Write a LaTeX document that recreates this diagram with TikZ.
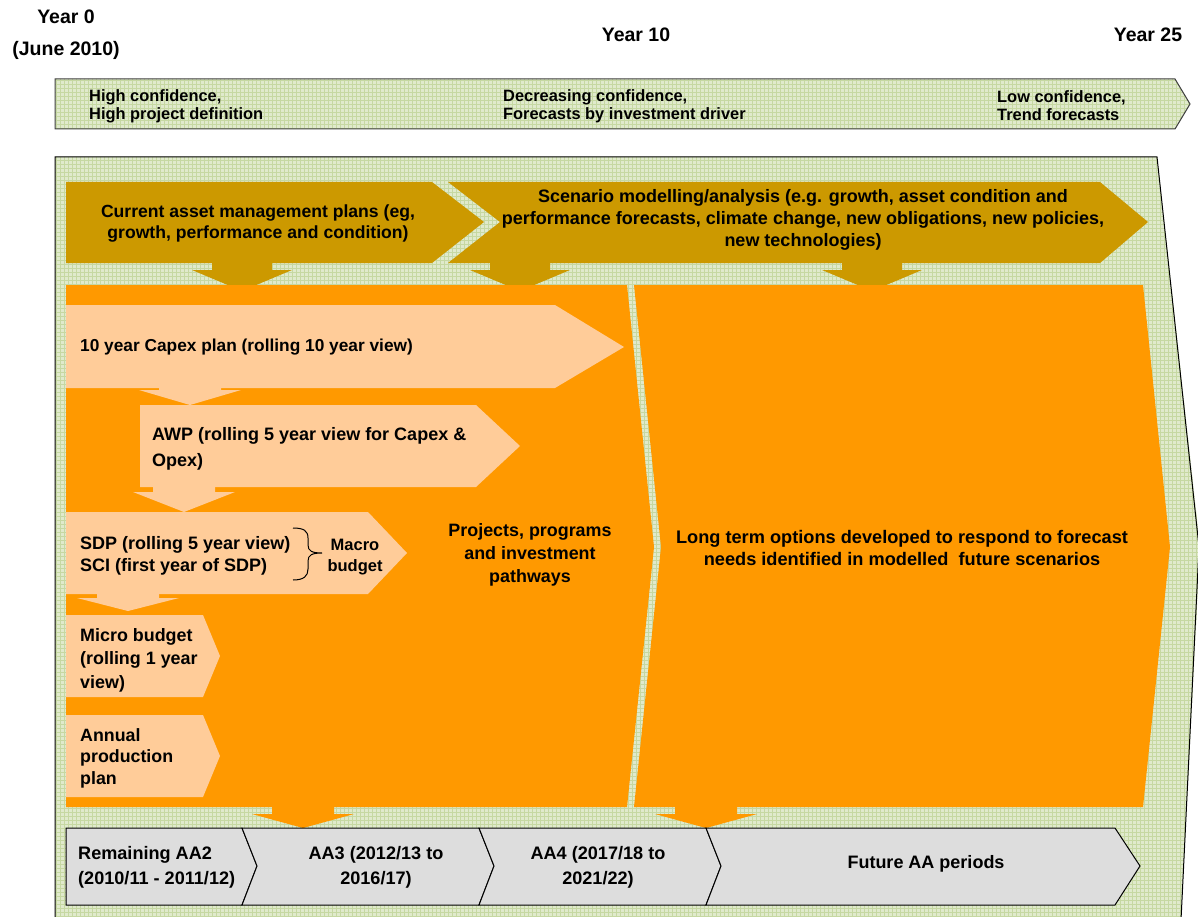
\documentclass[tikz,border=0pt]{standalone}
\usepackage{fontspec}
\setmainfont{Liberation Sans}
\definecolor{bggreen}{HTML}{E0EACC}
\definecolor{gridgreen}{HTML}{C6D8A2}
\definecolor{gold}{HTML}{CC9900}
\definecolor{orng}{HTML}{FF9900}
\definecolor{peach}{HTML}{FFCC99}
\definecolor{greybox}{HTML}{DDDDDD}
\definecolor{darkline}{HTML}{404040}
\newcommand\blkdown[7]{\fill[#1] (#2-#6,#3) -- (#2+#6,#3) -- (#2+#6,#4) -- (#2+#7,#4) -- (#2,#5) -- (#2-#7,#4) -- (#2-#6,#4) -- cycle;}
\newcommand\fs[2]{\bfseries\fontsize{#1}{#2}\selectfont}
\begin{document}
\begin{tikzpicture}[x=1pt,y=-1pt,
  lbl/.style={font=\fs{17.8}{22}, inner sep=0pt, text=black},
  toplbl/.style={font=\fs{16.4}{18}, inner sep=0pt, align=left, anchor=west},
  yearlbl/.style={font=\fs{19.5}{22}, inner sep=0pt},
  gridln/.style={draw=gridgreen, line width=0.7pt},
  chev/.style={fill=greybox, draw=black, line width=1pt, line join=miter}]
\useasboundingbox (0,0) rectangle (1198,917);
\fill[white] (0,0) rectangle (1198,917);

% year labels
\node[yearlbl] (y0) at (66,17) {Year 0};
\node[yearlbl] (jun) at (66,50) {(June 2010)};
\node[yearlbl] (y10) at (636,35) {Year 10};
\node[yearlbl] (y25) at (1148,35) {Year 25};

% top confidence bar
\begin{scope}
\clip (55,79) -- (1175,79) -- (1190,104) -- (1175,129) -- (55,129) -- cycle;
\fill[bggreen] (50,75) rectangle (1195,135);
\draw[gridln, step=4pt] (50,75) grid (1195,135);
\end{scope}
\draw[draw=darkline, line width=1pt] (55,79) -- (1175,79) -- (1190,104) -- (1175,129) -- (55,129) -- cycle;
\node[toplbl] (c1) at (89,106) {High confidence,\\High project definition};
\node[toplbl] (c2) at (503,106) {Decreasing confidence,\\Forecasts by investment driver};
\node[toplbl] (c3) at (997,106) {Low confidence,\\Trend forecasts};

% big background
\begin{scope}
\clip (55,157) -- (1157,157) -- (1200,547) -- (1181,917) -- (55,917) -- cycle;
\fill[bggreen] (50,150) rectangle (1200,917);
\draw[gridln, step=4pt] (50,150) grid (1200,917);
\end{scope}
\draw[black, line width=1pt] (55,920) -- (55,157) -- (1157,157) -- (1199,547) -- (1181,920);

% gold arrows
\fill[gold] (66,182) -- (432,182) -- (484,222) -- (432,263) -- (66,263) -- cycle;
\fill[gold] (448,182) -- (1100,182) -- (1148,222) -- (1100,263) -- (448,263) -- (500,222) -- cycle;
\blkdown{gold}{242}{262}{270}{291}{30}{50}
\blkdown{gold}{520}{262}{270}{291}{30}{50}
\blkdown{gold}{872}{262}{270}{291}{30}{50}
\node[lbl, align=center, font=\fs{17.6}{21}] (cam) at (258,223) {Current asset management plans (eg,\\growth, performance and condition)};
\node[lbl, align=center, font=\fs{18}{22}] (scen) at (803,220) {Scenario modelling/analysis (e.g. growth, asset condition and\\performance forecasts, climate change, new obligations, new policies,\\new technologies)};

% orange areas
\fill[orng] (66,285) -- (627,285) -- (654,547) -- (627,807) -- (66,807) -- cycle;
\fill[orng] (634,285) -- (1143,285) -- (1170,547) -- (1143,807) -- (634,807) -- (661,547) -- cycle;
\blkdown{orng}{303}{806}{814}{828}{31}{51}
\blkdown{orng}{706}{806}{814}{828}{31}{51}

% peach arrows
\fill[peach] (66,305) -- (555,305) -- (624,347) -- (555,388) -- (66,388) -- cycle;
\blkdown{peach}{190}{387}{390}{405}{31}{51}
\fill[peach] (140,405) -- (476,405) -- (520,446) -- (476,487) -- (140,487) -- cycle;
\blkdown{peach}{184}{486}{492}{512}{31}{51}
\fill[peach] (66,512) -- (368,512) -- (407,553) -- (368,594) -- (66,594) -- cycle;
\blkdown{peach}{128}{593}{598}{611}{31}{51}
\fill[peach] (66,615) -- (203,615) -- (220,656) -- (203,697) -- (66,697) -- cycle;
\fill[peach] (66,715) -- (203,715) -- (220,756) -- (203,797) -- (66,797) -- cycle;

\node[lbl, anchor=west, font=\fs{17.3}{22}] (capex) at (80,347) {10 year Capex plan (rolling 10 year view)};
\node[lbl, anchor=west, align=left, font=\fs{18}{26}] (awp) at (152,449) {AWP (rolling 5 year view for Capex \&\\Opex)};
\node[lbl, anchor=west, align=left, font=\fs{18}{22}] (sdp) at (80,556) {SDP (rolling 5 year view)\\SCI (first year of SDP)};
\draw[line width=1pt] (293,528) .. controls (304,528) and (308,531) .. (308,538) -- (308,545) .. controls (308,551) and (312,553) .. (322,553) .. controls (312,553) and (308,555) .. (308,561) -- (308,569) .. controls (308,576) and (304,580) .. (293,580);
\node[lbl, align=center, font=\fs{16.5}{21}] (macro) at (355,557) {Macro\\budget};
\node[lbl, anchor=west, align=left, font=\fs{17.9}{23.5}] (micro) at (80,660) {Micro budget\\(rolling 1 year\\view)};
\node[lbl, anchor=west, align=left, font=\fs{17.8}{21.5}] (annual) at (80,758) {Annual\\production\\plan};

\node[lbl, align=center, font=\fs{17.9}{23}] (proj) at (530,555) {Projects, programs\\and investment\\pathways};
\node[lbl, align=center, font=\fs{18.2}{22}] (long) at (902,548) {Long term options developed to respond to forecast\\needs identified in modelled\ \ future scenarios};

% bottom chevrons
\path[chev] (66,828) -- (242,828) -- (257,866) -- (242,905) -- (66,905) -- cycle;
\path[chev] (242,828) -- (479,828) -- (494,866) -- (479,905) -- (242,905) -- (257,866) -- cycle;
\path[chev] (479,828) -- (706,828) -- (721,866) -- (706,905) -- (479,905) -- (494,866) -- cycle;
\path[chev] (706,828) -- (1115,828) -- (1140,866) -- (1115,905) -- (706,905) -- (721,866) -- cycle;
\node[lbl, anchor=west, align=left, font=\fs{18.1}{25}] (aa2) at (78,867) {Remaining AA2\\(2010/11 - 2011/12)};
\node[lbl, align=center, font=\fs{18.1}{25}] (aa3) at (376,867) {AA3 (2012/13 to\\2016/17)};
\node[lbl, align=center, font=\fs{18.1}{25}] (aa4) at (598,867) {AA4 (2017/18 to\\2021/22)};
\node[lbl, font=\fs{18}{22}] (fut) at (926,864) {Future AA periods};
\end{tikzpicture}
\end{document}
